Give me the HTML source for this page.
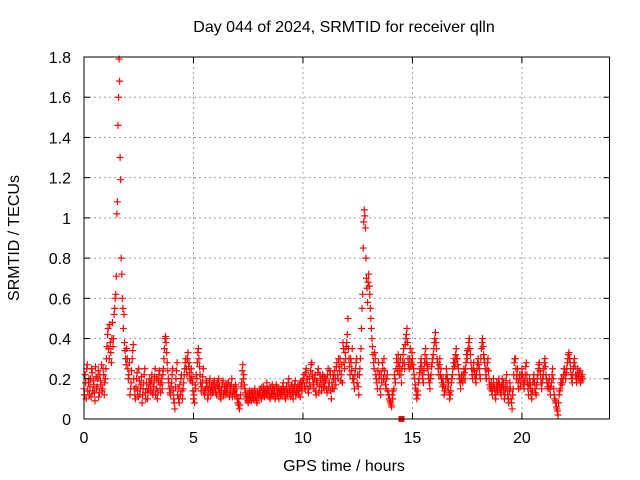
<!DOCTYPE html>
<html><head><meta charset="utf-8"><style>
body{margin:0;background:#fff}
svg{display:block;font-family:"Liberation Sans",sans-serif}
</style></head><body>
<svg id="chart" width="640" height="480" viewBox="0 0 640 480">
<rect width="640" height="480" fill="#fff"/>
<g id="grid"></g>
<g id="marks"></g>
<rect x="84" y="57" width="525.5" height="362" fill="none" stroke="#000" stroke-width="1"/>
<g id="ticks"></g>
<text x="344" y="32" font-size="16" text-anchor="middle">Day 044 of 2024, SRMTID for receiver qlln</text>
<text x="344" y="471" font-size="16" text-anchor="middle">GPS time / hours</text>
<text x="19" y="238" font-size="16" text-anchor="middle" transform="rotate(-90 19 238)">SRMTID / TECUs</text>
</svg>
<script>
const xTicks=[0,5,10,15,20];
const yTicks=[0,0.2,0.4,0.6,0.8,1,1.2,1.4,1.6,1.8];
const yTickLabels=["0","0.2","0.4","0.6","0.8","1","1.2","1.4","1.6","1.8"];
const startHour=0, stepHours=0.05;
const srmtid=[
0.15,0.22,0.10,0.27,0.18,0.12,0.20,0.25,0.14,0.17,0.09,0.21,0.16,0.24,0.13,0.19,0.27,0.15,0.22,0.18,
0.25,0.36,0.45,0.30,0.38,0.28,0.48,0.40,0.55,0.62,1.02,1.46,1.79,1.30,0.80,0.60,0.45,0.38,0.30,0.35,
0.25,0.22,0.12,0.18,0.30,0.37,0.15,0.10,0.20,0.14,0.25,0.12,0.17,0.08,0.15,0.22,0.13,0.18,0.10,0.15,
0.20,0.14,0.22,0.12,0.18,0.25,0.15,0.10,0.19,0.24,0.13,0.18,0.22,0.30,0.40,0.38,0.28,0.20,0.15,0.12,
0.18,0.25,0.10,0.05,0.20,0.28,0.15,0.08,0.12,0.22,0.10,0.18,0.25,0.30,0.22,0.33,0.28,0.20,0.25,0.18,
0.10,0.08,0.15,0.20,0.33,0.30,0.22,0.14,0.18,0.25,0.12,0.15,0.18,0.10,0.15,0.20,0.12,0.17,0.14,0.19,
0.15,0.12,0.18,0.20,0.13,0.10,0.16,0.19,0.14,0.12,0.17,0.15,0.18,0.11,0.14,0.20,0.13,0.16,0.12,0.15,
0.10,0.07,0.05,0.12,0.18,0.27,0.22,0.15,0.10,0.12,0.08,0.14,0.11,0.09,0.13,0.10,0.15,0.12,0.08,0.11,
0.12,0.15,0.10,0.13,0.16,0.11,0.14,0.18,0.12,0.15,0.10,0.13,0.17,0.12,0.14,0.11,0.16,0.13,0.10,0.14,
0.15,0.12,0.18,0.14,0.10,0.16,0.13,0.20,0.15,0.12,0.17,0.10,0.14,0.19,0.13,0.16,0.12,0.15,0.18,0.14,
0.18,0.22,0.15,0.25,0.20,0.13,0.18,0.24,0.28,0.20,0.15,0.22,0.12,0.18,0.25,0.16,0.20,0.14,0.22,0.18,
0.16,0.20,0.13,0.25,0.18,0.22,0.10,0.15,0.20,0.24,0.17,0.28,0.20,0.26,0.30,0.22,0.18,0.35,0.25,0.30,
0.38,0.50,0.30,0.22,0.28,0.35,0.20,0.15,0.25,0.30,0.22,0.12,0.25,0.35,0.55,0.85,1.04,0.95,0.70,0.58,
0.72,0.62,0.50,0.40,0.32,0.25,0.30,0.20,0.15,0.28,0.22,0.12,0.18,0.25,0.30,0.20,0.15,0.22,0.12,0.10,
0.08,0.06,0.10,0.15,0.20,0.25,0.28,0.32,0.22,0.30,0.18,0.28,0.35,0.25,0.40,0.45,0.30,0.25,0.35,0.28,
0.30,0.25,0.20,0.15,0.10,0.12,0.20,0.25,0.30,0.22,0.18,0.28,0.35,0.30,0.25,0.20,0.15,0.22,0.28,0.32,
0.38,0.43,0.35,0.28,0.22,0.30,0.25,0.18,0.20,0.12,0.15,0.25,0.20,0.18,0.10,0.14,0.20,0.25,0.30,0.28,
0.35,0.30,0.25,0.20,0.15,0.22,0.18,0.25,0.20,0.28,0.30,0.35,0.40,0.32,0.25,0.20,0.28,0.22,0.18,0.25,
0.30,0.25,0.20,0.35,0.40,0.32,0.28,0.22,0.25,0.30,0.20,0.15,0.18,0.12,0.20,0.15,0.10,0.18,0.14,0.20,
0.15,0.12,0.20,0.18,0.10,0.15,0.22,0.12,0.08,0.18,0.10,0.05,0.15,0.28,0.30,0.20,0.25,0.15,0.22,0.18,
0.25,0.20,0.15,0.22,0.28,0.18,0.12,0.20,0.15,0.10,0.18,0.22,0.15,0.12,0.20,0.25,0.28,0.22,0.15,0.20,
0.25,0.30,0.22,0.18,0.15,0.20,0.12,0.18,0.25,0.15,0.10,0.08,0.05,0.02,0.12,0.15,0.20,0.18,0.22,0.25,
0.20,0.25,0.30,0.33,0.28,0.22,0.18,0.25,0.30,0.22,0.18,0.25,0.20,0.24,0.19,0.22];
const startHourB=0.025;
const srmtidB=[
0.12,0.18,0.25,0.14,0.20,0.16,0.11,0.23,0.19,0.13,0.26,0.15,0.20,0.11,0.22,0.17,0.14,0.25,0.12,0.20,
0.30,0.42,0.35,0.47,0.33,0.40,0.36,0.52,0.60,0.71,1.08,1.60,1.68,1.19,0.72,0.55,0.52,0.34,0.27,0.30,
0.20,0.28,0.15,0.24,0.34,0.20,0.12,0.16,0.23,0.11,0.19,0.15,0.21,0.12,0.18,0.25,0.10,0.15,0.13,0.18,
0.17,0.19,0.13,0.16,0.21,0.12,0.20,0.14,0.22,0.17,0.20,0.15,0.25,0.35,0.41,0.33,0.24,0.18,0.13,0.16,
0.22,0.14,0.08,0.16,0.24,0.12,0.10,0.17,0.20,0.14,0.15,0.22,0.28,0.25,0.30,0.26,0.23,0.19,0.21,0.14,
0.12,0.17,0.22,0.28,0.35,0.26,0.18,0.16,0.21,0.14,0.13,0.19,0.16,0.12,0.18,0.14,0.16,0.13,0.18,0.16,
0.13,0.17,0.15,0.16,0.11,0.14,0.18,0.12,0.16,0.14,0.13,0.18,0.12,0.16,0.17,0.11,0.15,0.14,0.17,0.12,
0.08,0.10,0.07,0.16,0.24,0.20,0.17,0.13,0.11,0.09,0.12,0.10,0.14,0.12,0.10,0.14,0.11,0.09,0.13,0.12,
0.14,0.11,0.16,0.12,0.13,0.15,0.12,0.15,0.14,0.11,0.16,0.12,0.14,0.15,0.10,0.17,0.12,0.15,0.13,0.12,
0.13,0.16,0.14,0.11,0.15,0.12,0.18,0.14,0.11,0.16,0.13,0.15,0.17,0.12,0.15,0.14,0.17,0.11,0.16,0.19,
0.20,0.16,0.23,0.18,0.15,0.21,0.16,0.27,0.22,0.17,0.20,0.14,0.19,0.23,0.13,0.22,0.17,0.20,0.16,0.21,
0.19,0.15,0.22,0.16,0.24,0.14,0.18,0.22,0.15,0.20,0.26,0.22,0.30,0.24,0.19,0.27,0.38,0.28,0.33,0.36,
0.42,0.35,0.26,0.30,0.24,0.20,0.18,0.22,0.28,0.18,0.16,0.22,0.30,0.45,0.62,0.98,1.01,0.80,0.65,0.68,
0.66,0.55,0.45,0.36,0.28,0.33,0.22,0.18,0.24,0.20,0.15,0.22,0.28,0.20,0.24,0.17,0.20,0.14,0.12,0.09,
0.07,0.12,0.14,0.22,0.18,0.30,0.24,0.28,0.26,0.22,0.25,0.32,0.28,0.37,0.42,0.38,0.27,0.30,0.26,0.33,
0.27,0.22,0.17,0.12,0.14,0.18,0.23,0.28,0.26,0.20,0.24,0.32,0.28,0.27,0.22,0.18,0.20,0.26,0.30,0.35,
0.40,0.38,0.30,0.25,0.27,0.22,0.20,0.16,0.17,0.14,0.20,0.22,0.16,0.13,0.12,0.18,0.22,0.28,0.26,0.32,
0.30,0.27,0.22,0.18,0.20,0.19,0.22,0.23,0.25,0.32,0.34,0.38,0.35,0.28,0.22,0.25,0.24,0.20,0.22,0.28,
0.27,0.22,0.30,0.38,0.36,0.30,0.25,0.20,0.28,0.24,0.17,0.16,0.14,0.16,0.17,0.12,0.14,0.16,0.18,0.17,
0.13,0.16,0.17,0.14,0.12,0.19,0.16,0.10,0.14,0.15,0.08,0.12,0.22,0.30,0.25,0.22,0.18,0.20,0.16,0.22,
0.22,0.17,0.19,0.26,0.22,0.15,0.17,0.18,0.12,0.14,0.20,0.18,0.13,0.17,0.22,0.27,0.24,0.18,0.18,0.22,
0.28,0.26,0.20,0.16,0.18,0.15,0.16,0.22,0.20,0.12,0.09,0.06,0.04,0.08,0.14,0.18,0.17,0.20,0.25,0.22,
0.23,0.28,0.32,0.30,0.25,0.20,0.22,0.28,0.26,0.20,0.22,0.21,0.23,0.18,0.21,0.20];
const flagHours=[14.5];
const flagValues=[0];

const X0=84,X1=609.5,Y0=419,Y1=57,XMAX=24,YMAX=1.8;
const xs=v=>X0+(X1-X0)*v/XMAX;
const ys=v=>Y0-(Y0-Y1)*v/YMAX;
const NS="http://www.w3.org/2000/svg";
function mk(tag,attrs,parent){const e=document.createElementNS(NS,tag);for(const k in attrs)e.setAttribute(k,attrs[k]);parent.appendChild(e);return e;}
const grid=document.getElementById('grid'),ticks=document.getElementById('ticks'),marks=document.getElementById('marks');
xTicks.forEach(t=>{
  const x=xs(t);
  if(t>0){const g=mk('line',{x1:x,x2:x,y1:Y1,y2:Y0,stroke:'#a0a0a0','stroke-dasharray':'2,3'},grid);
  
  }
  const tl=mk('text',{x:x,y:Y0+24,'font-size':16,'text-anchor':'middle'},ticks);tl.textContent=t;
  
  
  mk('line',{x1:x,x2:x,y1:Y0,y2:Y0-6,stroke:'#000'},ticks);
  mk('line',{x1:x,x2:x,y1:Y1,y2:Y1+6,stroke:'#000'},ticks);
});
yTicks.forEach((t,i)=>{
  const y=ys(t);
  if(t>0&&t<YMAX){const g=mk('line',{x1:X0,x2:X1,y1:y,y2:y,stroke:'#a0a0a0','stroke-dasharray':'2,3'},grid);
  
  }
  const tl=mk('text',{x:X0-13,y:y+6,'font-size':16,'text-anchor':'end'},ticks);tl.textContent=yTickLabels[i];
  
  
  mk('line',{x1:X0,x2:X0+6,y1:y,y2:y,stroke:'#000'},ticks);
  mk('line',{x1:X1,x2:X1-6,y1:y,y2:y,stroke:'#000'},ticks);
});
function plotSeries(vals,start,color){
  vals.forEach((v,i)=>{
    const x=xs(start+i*stepHours),y=ys(v);
    const p=mk('path',{d:`M${x-3.5},${y}h7M${x},${y-3.5}v7`,stroke:color,'stroke-width':1.2,fill:'none'},marks);
    
    
  });
}
plotSeries(srmtidB,startHourB,'#f00');
plotSeries(srmtid,startHour,'#f00');
flagHours.forEach((h,i)=>{
  const x=xs(h),y=ys(flagValues[i]);
  const r=mk('rect',{x:x-3,y:y-3,width:6,height:6,fill:'#f00'},marks);
  
  
});
</script>
</body></html>
